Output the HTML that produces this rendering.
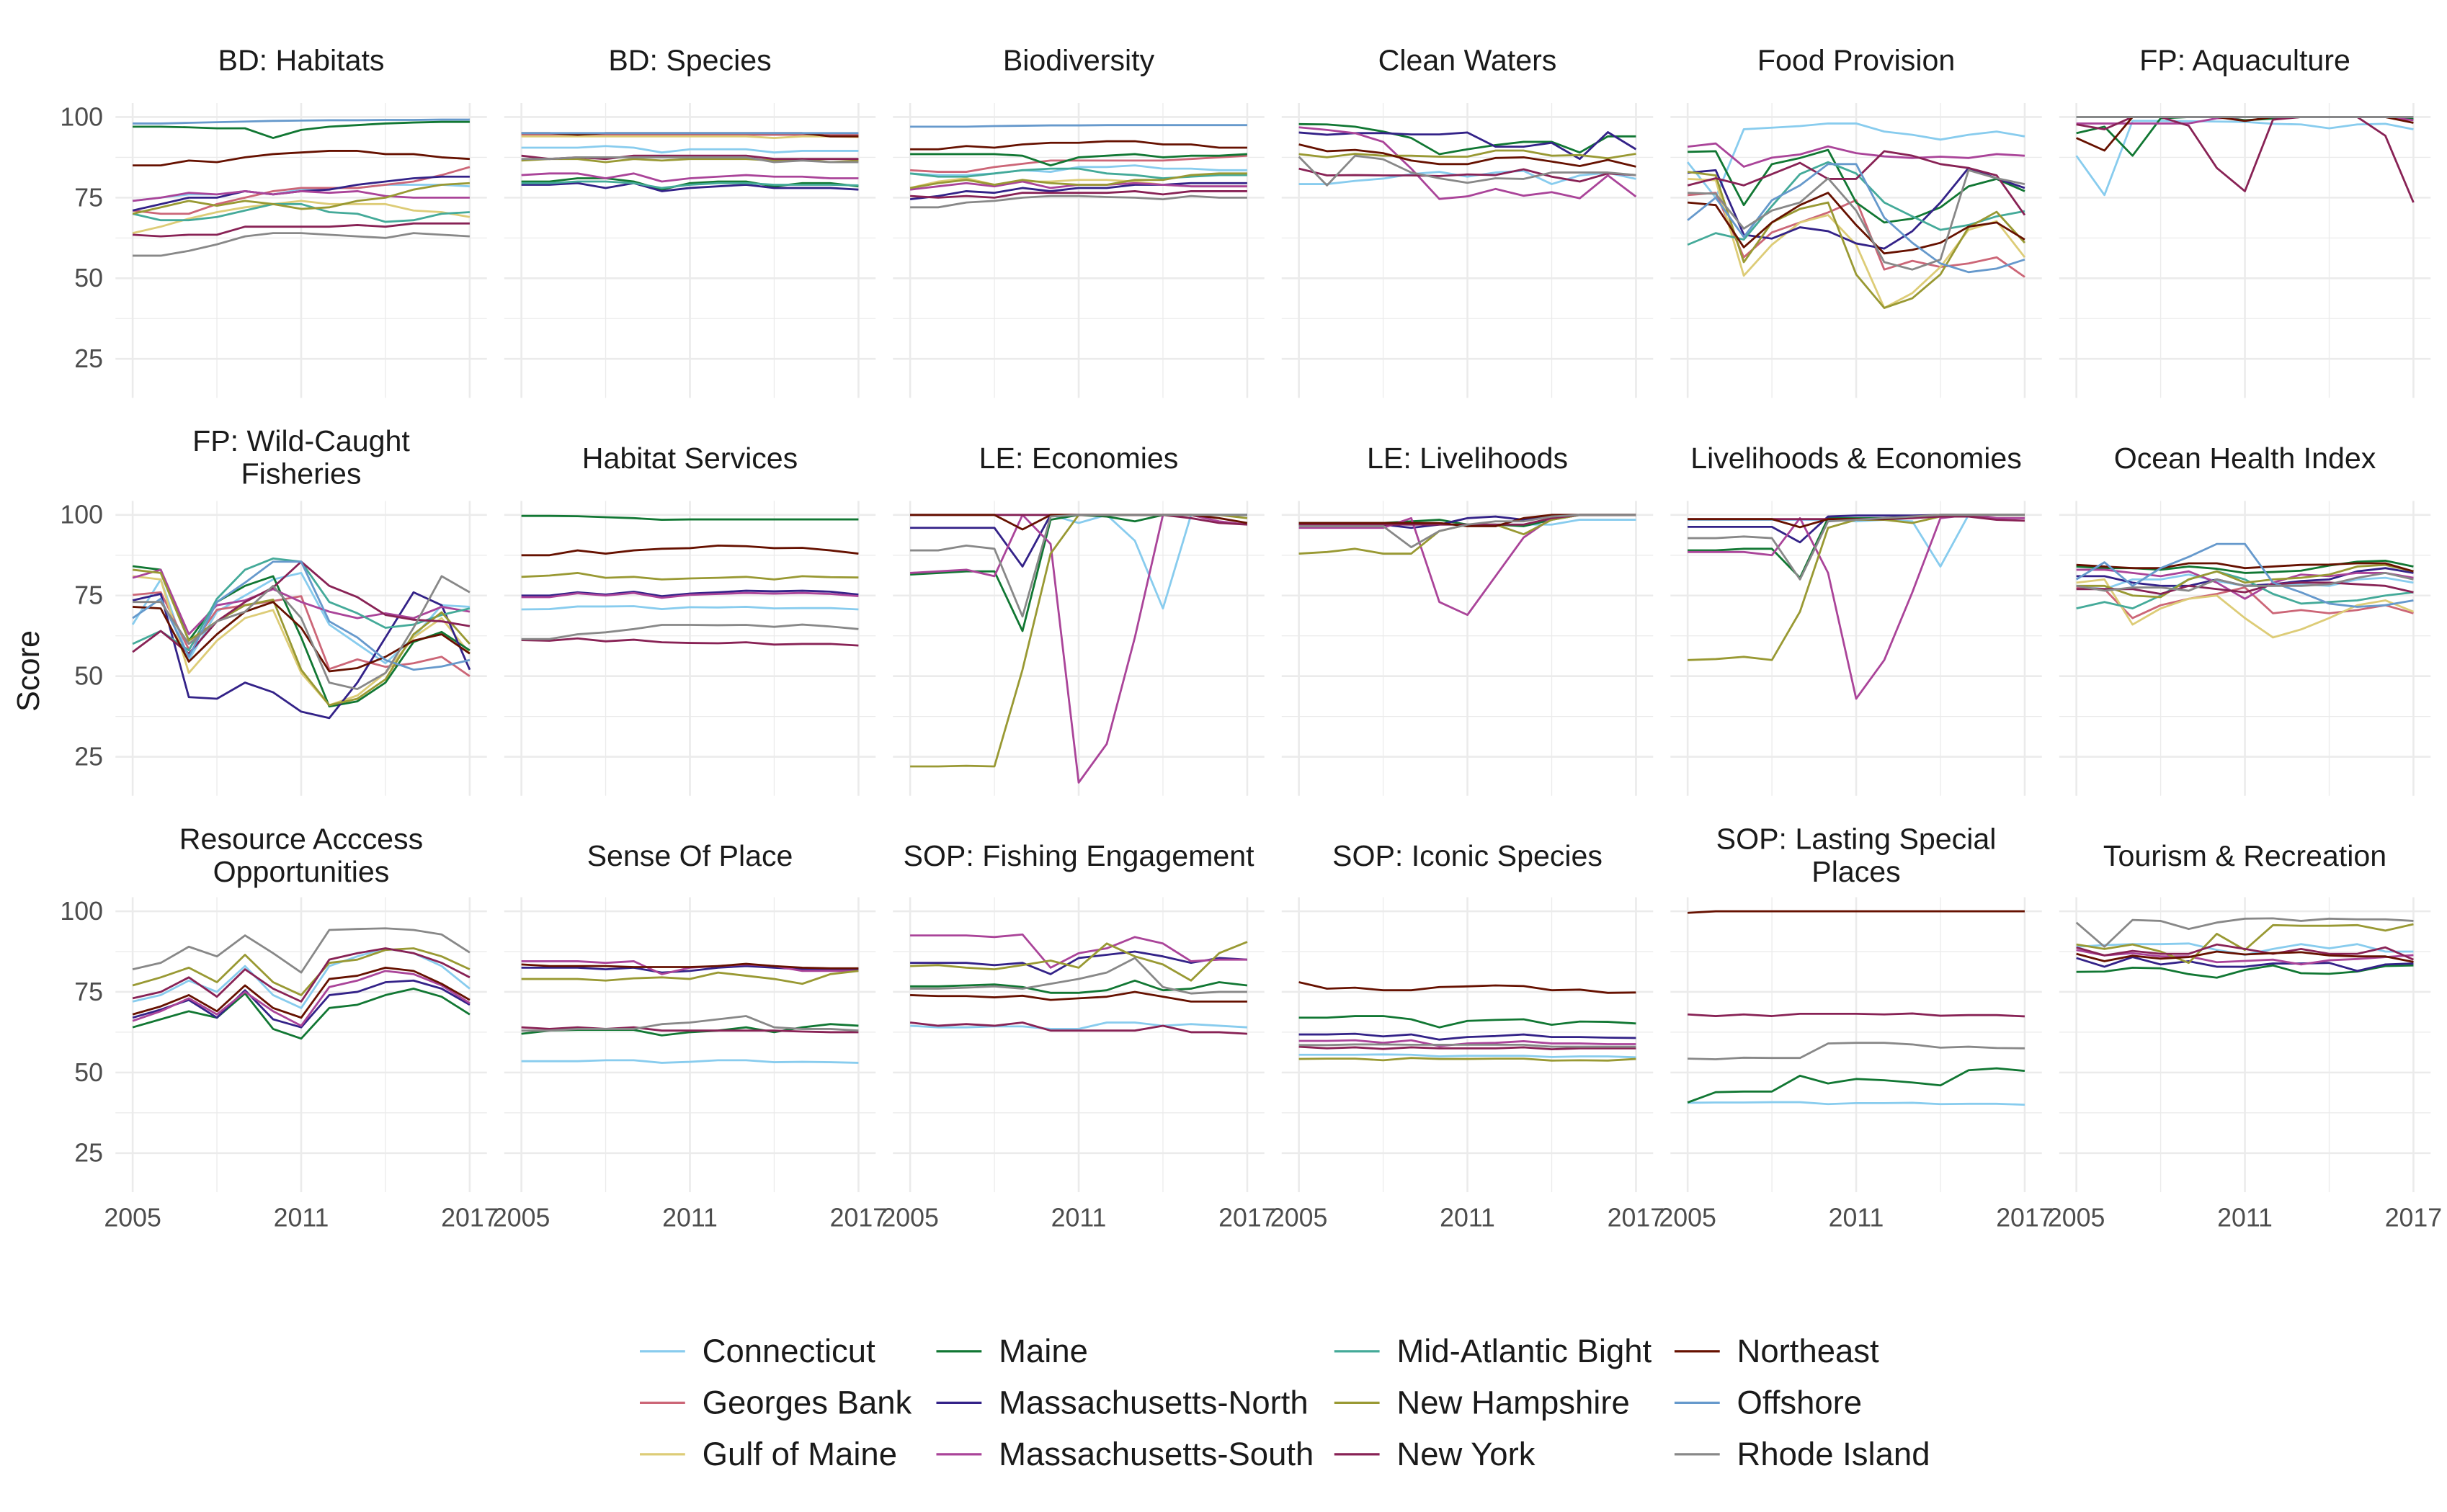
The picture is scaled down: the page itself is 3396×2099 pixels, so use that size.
<!DOCTYPE html>
<html><head><meta charset="utf-8"><style>
html,body{margin:0;padding:0;background:#fff;}
svg{display:block;font-family:"Liberation Sans",Arial,sans-serif;}
</style></head><body>
<svg id="chart" width="3396" height="2099" viewBox="0 0 1568 969" preserveAspectRatio="none" xmlns="http://www.w3.org/2000/svg"></svg>
<script>
const years=[2005,2006,2007,2008,2009,2010,2011,2012,2013,2014,2015,2016,2017];
const regionNames=["Connecticut","Georges Bank","Gulf of Maine","Maine","Massachusetts-North","Massachusetts-South","Mid-Atlantic Bight","New Hampshire","New York","Northeast","Offshore","Rhode Island"];
const yTicks=[25,50,75,100];
const xTickLabels=[2005,2011,2017];
const panelTitles=[["BD: Habitats"],["BD: Species"],["Biodiversity"],["Clean Waters"],["Food Provision"],["FP: Aquaculture"],["FP: Wild-Caught","Fisheries"],["Habitat Services"],["LE: Economies"],["LE: Livelihoods"],["Livelihoods & Economies"],["Ocean Health Index"],["Resource Acccess","Opportunities"],["Sense Of Place"],["SOP: Fishing Engagement"],["SOP: Iconic Species"],["SOP: Lasting Special","Places"],["Tourism & Recreation"]];
// series order: CT, GB, GoM, ME, MAN, MAS, MAB, NH, NY, NE, OFF, RI
const bdHabitats=[
[74,75,76,76,77,76,77.5,78,78,79,79,79,78.5],
[71,70,70,73,75,77,78,78,78,79,80,82,84.5],
[64,66,68.5,70.5,72,73,74,73,73,73,71,70.5,69],
[97,97,96.8,96.5,96.5,93.5,96,97,97.5,98,98.3,98.5,98.5],
[71,73,75,75,77,76,77,77.5,79,80,81,81.5,81.5],
[74,75,76.5,76,77,76,77,76.5,77,75.5,75,75,75],
[70,68,68,69,71,73,73,70.5,70,67.5,68,70,70.5],
[70,72,74,72.5,74,73,71.5,72,74,75,77.5,79,79.5],
[63.5,63,63.5,63.5,66,66,66,66,66.5,66,67,67,67],
[85,85,86.5,86,87.5,88.5,89,89.5,89.5,88.5,88.5,87.5,87],
[98,98,98.2,98.4,98.6,98.8,98.9,99,99,99.1,99.1,99.2,99.2],
[57,57,58.5,60.5,63,64,64,63.5,63,62.5,64,63.5,63]];
const bdSpecies=[
[90.5,90.5,90.5,91,90.5,89,90,90,90,89,89.5,89.5,89.5],
[94.5,94.5,94.5,94.5,94.5,94.5,94.5,94.5,94.5,94.5,94.5,94.5,94.5],
[94,94,94,94,94,94,94,94,94,93.5,94,94,93.8],
[80,80,81,81,80,77.5,79.5,80,80,78.5,79.5,79.5,78.5],
[79,79,79.5,78,79.5,77,78,78.5,79,78,78,78,77.5],
[82,82.5,82.5,81,82.5,80,81,81.5,82,81.5,81.5,81,81],
[79.5,79.5,80,80,79.5,78,79,79.5,79.5,79,79,79,78.8],
[86.5,87,87,86,87,86.5,87,87,87,86.5,87,86,86.5],
[88,87,87.5,87,88,88,88,88,88,87,87,87,87],
[95,95,94.5,95,95,95,95,95,95,95,95,94,94],
[95,95,95,95,95,95,95,95,95,95,95,95,95],
[87,87,87.5,87.5,87.5,87.5,87.5,87.5,87.5,86,86.5,86,86]];
const biodiversity=[
[82.5,82,82,82.5,83.5,83,84.5,84.5,85,84,84,83.5,83.5],
[83.5,83,83,84.5,85.5,86.5,86.5,86.5,86.5,86.5,87,87.5,88],
[78,80,81,79,80,80,80.5,80.5,80,79,78.5,78.5,78.5],
[88.5,88.5,88.5,88.5,88,85,87.5,88,88.5,87.5,88,88,88.5],
[74.5,75.5,77,76.5,78,77,78,78,79,79,79.5,79.5,79.5],
[77.5,78.5,79.5,78.5,80,78,79,79,79.5,79,78.5,78.5,78.5],
[82.5,81.5,81.5,82.5,83.5,84,84,82.5,82,81,81.5,82,82],
[78,79.5,80.5,79,80.5,79.5,79,79,80.5,80.5,82,82.5,82.5],
[75.5,75,75.5,75,76.5,76.5,76.5,76.5,77,76,77,77,77],
[90,90,91,90.5,91.5,92,92,92.5,92.5,91.5,91.5,90.5,90.5],
[97,97,97,97.2,97.3,97.4,97.4,97.5,97.5,97.5,97.5,97.5,97.5],
[72,72,73.5,74,75,75.5,75.5,75.2,75,74.5,75.5,75,75]];
const cleanWaters=[
[79.2,79.2,80.2,80.9,82.3,83,81.5,82.8,83.3,79.2,81.9,82.7,80.8],
null,null,
[97.8,97.7,97,95.5,93.5,88.5,90,91.3,92.3,92.3,89,94,94],
[95.2,94.5,95,95,94.6,94.6,95.2,90.8,90.8,92,87,95.3,90],
[96.8,96,95,92.3,84,74.6,75.4,77.7,75.6,76.7,74.8,81.9,75.3],
null,
[88.5,87.5,88.6,88,88,87.7,87.7,89.6,89.6,88,88.2,87.2,88.6],
[84,81.9,82,81.9,81.9,81.7,82.2,82,83.8,81.5,80,82.5,82],
[91.5,89.4,89.8,88.8,86.5,85.4,85.4,87.3,87.5,86.2,84.8,86.7,84.6],
null,
[87.7,78.8,88,86.9,82.8,81,79.6,81,80.8,82.8,82.8,82.8,82]];
const foodProvision=[
[86,75,96.2,96.7,97.2,98,98,95.5,94.5,93,94.5,95.5,94],
[75.8,76.5,56.5,64.2,67.3,70.4,74.2,52.7,55.4,53.5,54.6,56.5,50.4],
[80.8,80.4,50.8,60.4,67.3,69.6,60.4,40.8,45.4,53.5,65,67.7,56.5],
[89.2,89.4,72.7,85.4,87.3,89.8,73.5,67.3,68.5,72,78.5,80.8,77],
[82.7,83.5,63.5,62.3,65.8,64.6,60.8,59.2,64.6,73.5,84.2,81,78],
[90.8,91.8,84.6,87.4,88.4,90.9,88.8,87.8,87.3,87.7,87.3,88.5,88],
[60.4,64,62,72.4,82.3,86,82.5,73.5,69.2,65,66.5,69.2,70.8],
[83,81.9,55,67.3,71.5,73.5,51.2,40.8,43.8,51.2,65.8,70.6,61],
[78.8,81,78.8,82.3,85.8,80.8,80.8,89.4,88,85.4,84.2,81.9,69.6],
[73.5,72.7,59.6,67.3,72.7,76.5,66.5,57.7,58.8,61,66,67.3,62],
[68,75,62.8,74.2,78.8,85.4,85.4,68.8,61,54.6,51.9,53,55.8],
[76.5,76.2,65.4,71,73.5,81,71,55,52.7,55.8,83.5,81,79.2]];
const fpAquaculture=[
[88,75.8,98.8,98.8,98.7,98.6,98.5,97.9,97.7,96.5,97.7,97.9,96.2],
[100,100,100,100,100,100,100,100,100,100,100,100,100],
[100,100,100,100,100,100,100,100,100,100,100,100,100],
[95,97,88,99.6,100,100,99,99.5,100,100,100,100,99.5],
[100,100,100,100,100,100,100,100,100,100,100,100,100],
[98,98,98,98,98,99.6,100,100,100,100,100,100,99],
[100,100,100,100,100,100,100,100,100,100,100,100,100],
[100,100,100,100,100,100,100,100,100,100,100,100,100],
[97.7,96.2,100,100,97.3,84.2,77,99.2,100,100,100,94.2,73.5],
[93.5,89.6,100,100,100,100,98.8,100,100,100,100,100,98.2],
[100,100,100,100,100,100,100,100,100,100,100,100,100],
[100,100,100,100,100,100,100,100,100,100,100,100,100]];
const fpWildCaught=[
[66,80,55,70,75,80,82,66,60,54,62,72,71.5],
[75.2,76,58.3,70.6,72,73.3,74.8,52.2,55.2,52.9,54,56,50],
[81,80,51,61,68,70.5,51,41,44,51,62,68,57],
[84.1,83,61,73,78,81,62,40.6,42.2,48,60.6,63.7,58],
[73.5,75.5,43.5,43,48,45,39,37,48,62,76,72,52],
[80.5,83,63,72,73.5,77,73,70,68,69.5,68,71.5,70],
[60,64,58,74,83,86.5,85.5,73,69.5,65,66,69,71],
[83,82,61,67,72,73.7,52,41,43,49,63,69.8,60],
[57.5,64,57,67,73,77.5,85.5,78,74.5,69,67.5,67,65.5],
[71.5,71,54.5,63,70,73,65,51.5,52.5,56,61,63,57],
[68,74,56,73,79,85.5,85.5,67,62,55,52,53,55],
[73,73,60,67,70,78,68,48,46,51,65,81,76]];
const habitatServices=[
[70.7,70.8,71.6,71.6,71.7,70.8,71.4,71.3,71.5,71,71.1,71.1,70.7],
null,null,
[99.7,99.7,99.6,99.3,99,98.5,98.6,98.6,98.6,98.6,98.6,98.6,98.6],
[75,75,76,75.3,76.2,74.8,75.6,76,76.5,76.3,76.5,76.2,75.3],
[74.5,74.5,75.7,75,75.8,74.3,75.2,75.5,75.8,75.6,75.8,75.5,74.8],
null,
[80.8,81.2,82,80.5,80.8,80,80.3,80.5,80.8,80,81,80.7,80.6],
[61.2,61,61.7,60.8,61.3,60.5,60.3,60.2,60.5,59.8,60,60,59.5],
[87.5,87.5,89,88,89,89.5,89.7,90.5,90.3,89.7,89.8,89,88],
null,
[61.5,61.5,63,63.6,64.6,65.9,65.9,65.8,65.9,65.3,66,65.4,64.6]];
const leEconomies=[
[100,100,100,100,100,100,97.5,100,92,71,100,100,100],
null,null,
[81.5,82,82.5,82.5,64,98.5,100,99.5,98,100,100,100,100],
[96,96,96,96,84,100,100,100,100,100,100,100,100],
[82,82.5,83,81,100,91,17,29,62,100,100,98,97],
null,
[22,22,22.2,22,52,88,100,100,100,100,100,100,99],
[100,100,100,100,100,100,100,100,100,100,99,97.5,97],
[100,100,100,100,95.5,100,100,100,100,100,100,99,97.5],
null,
[89,89,90.5,89.5,68.5,99.5,100,100,100,100,100,100,100]];
const leLivelihoods=[
[97,97,97,97,97,97,97,97,97,97,98.5,98.5,98.5],
null,null,
[97.5,97.5,97.5,97.5,98,98.5,97,97,96.5,98.5,100,100,100],
[97,97,97,97,96,97,99,99.5,98.5,100,100,100,100],
[96,96,96,96,99,73,69,81,93,99,100,100,100],
null,
[88,88.5,89.5,88,88,95,97,97,94,98.5,100,100,100],
[97,97,97,97,97,97,97,97,97,99,100,100,100],
[97.5,97.5,97.5,97.5,97.5,97.5,96.5,96.5,99,100,100,100,100],
null,
[96.5,96.5,96.5,96.5,90,95,97,98,98,99.5,100,100,100]];
const livEconomies=[
[98.5,98.5,98.5,98.5,98.5,98.5,98,98.5,98,84,100,100,100],
null,null,
[89,89,89.5,89.5,80.5,99,99,99,99.5,100,100,100,100],
[96.3,96.3,96.3,96.3,91.5,99.5,99.8,99.8,99.8,100,100,100,100],
[88.5,88.5,88.5,87.5,99,82,43,55,76,99,100,99,99],
null,
[55,55.3,56,55,70,96,98.5,98.5,97.5,99.5,100,100,100],
[98.7,98.7,98.7,98.7,98.7,98.7,98.7,98.7,99,99.5,99.5,98.5,98.2],
[98.7,98.7,98.7,98.7,96.2,98.7,98.7,98.7,99.5,100,100,100,100],
null,
[92.8,92.8,93.3,92.8,80,98,98.5,99,99.5,100,100,100,100]];
const oceanHealth=[
[78,77,80,80,81.5,79.5,78,78,78.5,78,80,80.5,79],
[77.5,77,68,72,74,75.5,77.5,69.5,70.5,69.5,70.5,72,69.5],
[79,80,66,71,74,75,68,62,64.5,68,72,73.5,70],
[84,83.5,83.5,83,84,83.3,82,82.3,82.7,84.3,85.5,85.8,84],
[81,81,79,78,78,80,78,78.5,79.5,80,82.5,83.5,82],
[83,83,82,81,82.5,79,74,79,81.5,81,82,82,80.5],
[71,73,71,75,80,82.5,80,75.5,72.5,73,73.5,75,76],
[78,78,75,74.5,80,82.5,79,80,80.5,81.5,84,84.5,82.5],
[77,77,77,75.5,78,77,76,78.5,79,79,78.5,78,76],
[84.5,84,83.5,83.5,85,85,83.5,84,84.5,84.6,85,85,82.5],
[80,85.3,78,83.5,87,91,91,79,76,72.5,71.5,72,73.5],
[78,76.5,77.5,77.5,76.5,80,78,78,78,78.5,80.5,82,80]];
const resourceAccess=[
[72,74,78.5,75,83,74,70,83,86,88.5,87,83,76],
null,null,
[64,66.5,69,67,74.5,63.5,60.5,70,71,74,76,73.5,68],
[67,69.5,72.5,67,75.5,66.5,64,74,75,78,78.5,76,71],
[66,69,73,68,75,69,64.5,76.5,78.5,81.5,80.5,77,71.5],
null,
[77,79.5,82.5,78,86.5,78,74,84,85,88,88.5,86,82],
[73,75,79.5,73.5,82,76,72,85,87,88.5,87,84,79.5],
[68,70.5,74,69,77,70,67,79,80,82.5,81.5,77.5,72.5],
null,
[82,84,89,86,92.5,87,81,94.2,94.5,94.7,94.2,92.8,87.2]];
const senseOfPlace=[
[53.5,53.5,53.5,53.8,53.8,53,53.3,53.8,53.8,53.2,53.3,53.2,53],
null,null,
[62,63,63.2,63.2,63.2,61.5,62.5,63,64,62.5,64,65,64.5],
[82.5,82.5,82.5,82,82.5,81,81.5,82.5,83,82.5,82,82,82],
[84.5,84.5,84.5,84,84.5,80.5,82.5,83,83.5,83,81.5,81.5,81.5],
null,
[79,79,79,78.5,79.2,79.5,79,81,80,79,77.5,80.5,81.5],
[64,63.5,64,63.5,64,63,63,63,63,63,62.7,62.5,62.5],
[83.5,83,83,83,82.7,82.7,82.7,83,83.7,83,82.5,82.3,82.3],
null,
[63,63,63.5,63.5,63.5,65,65.5,66.5,67.5,64,63.5,63.5,63]];
const sopFishing=[
[64.5,64,64,64.3,64.3,63.5,63.5,65.5,65.5,64.5,65,64.5,64],
null,null,
[76.7,76.7,77,77.3,76.5,74.7,74.7,75.5,78.5,75.5,76,78,77],
[84,84,84,83.3,84,80.5,85.5,86.5,87.5,86,84,85.5,85],
[92.5,92.5,92.5,92,92.8,82.5,87,88.5,92,90,84.5,85,85],
null,
[83,83.3,82.5,82,83.3,84.7,82.5,90,86,83.5,78.5,87,90.5],
[65.5,64.5,65,64.5,65.5,63,63,63,63,64.5,62.5,62.5,62],
[74,73.7,73.7,73.3,73.8,72.5,73,73.5,75,73.5,72,72,72],
null,
[76,76,76.3,76.7,76,77.5,79,81,85.5,76.5,74.5,75,75]];
const sopIconic=[
[55.5,55.5,55.5,55.6,55.5,55,55.2,55.2,55.2,54.8,55,55,54.7],
null,null,
[67,67,67.5,67.5,66.5,64,66,66.3,66.5,64.8,65.8,65.7,65.2],
[61.8,61.8,62,61.2,61.8,60.2,61,61.3,61.8,61,61,60.8,60.7],
[59.8,59.8,60,59.2,60,58.2,59,59.2,59.7,59,59,58.8,58.8],
null,
[54.2,54.3,54.3,53.8,54.5,54.2,54.2,54.3,54.3,53.7,53.8,53.7,54.2],
[58,57.5,57.8,57.3,57.8,57.5,57.5,57.5,57.8,57.2,57.5,57.5,57.5],
[78,76,76.3,75.5,75.5,76.5,76.7,77,76.8,75.5,75.7,74.7,74.8],
null,
[58.5,58.5,58.7,58.7,58.6,58.6,58.6,58.6,58.6,58,58,58,58]];
const sopLasting=[
[40.6,40.7,40.7,40.8,40.8,40.2,40.5,40.5,40.6,40.2,40.3,40.3,40],
null,null,
[40.7,43.9,44.1,44.1,49,46.6,48,47.6,46.9,46,50.7,51.3,50.5],
null,null,null,null,
[68,67.5,68,67.5,68.2,68.2,68.2,68,68.3,67.6,67.8,67.8,67.4],
[99.5,100,100,100,100,100,100,100,100,100,100,100,100],
null,
[54.3,54.1,54.6,54.5,54.5,59,59.2,59.2,58.7,57.7,58,57.6,57.5]];
const tourism=[
[89,89.5,89.8,89.8,90,88,86.5,88.3,89.8,88.5,89.8,87.5,87.5],
null,null,
[81.2,81.3,82.5,82.3,80.5,79.4,81.8,83.2,80.8,80.6,81.3,83,83.2],
[85.5,82.8,85.8,83.5,84.5,82.8,82.8,83.8,83.8,84,81.5,83.5,83.8],
[88,86.3,87,86,86,84.2,84.6,85,83.5,84.8,85.2,85.8,86.4],
null,
[89.7,88.3,89.7,87.5,84,93,88,95.7,95.5,95.5,95.7,94,96],
[88.8,86.3,87.7,86.8,86.8,89.7,88.3,86.8,88.3,86.8,86.8,88.8,85],
[86.8,84.5,86.2,85.3,85.8,87.5,86.6,87,87.3,86.3,86,86,84.3],
null,
[96.5,89,97.3,97,94.5,96.5,97.7,97.8,97,97.7,97.5,97.5,97]];
const panelData=[bdHabitats,bdSpecies,biodiversity,cleanWaters,foodProvision,fpAquaculture,fpWildCaught,habitatServices,leEconomies,leLivelihoods,livEconomies,oceanHealth,resourceAccess,senseOfPlace,sopFishing,sopIconic,sopLasting,tourism];

const colors=["#88CCEE","#CC6677","#DDCC77","#117733","#332288","#AA4499","#44AA99","#999933","#882255","#661100","#6699CC","#888888"];
const NS="http://www.w3.org/2000/svg";
const svg=document.getElementById("chart");
function mk(tag,attrs,parent){const e=document.createElementNS(NS,tag);for(const k in attrs)e.setAttribute(k,attrs[k]);(parent||svg).appendChild(e);return e;}
const colX0=85, colStep=249.1, xSpan=216, rowY100=[75,330,584], unit=155/75;
function kebab(s){return s.toLowerCase().replace(/&/g,"and").replace(/[^a-z0-9]+/g,"-").replace(/^-|-$/g,"");}

panelData.forEach((data,p)=>{
  const col=p%6,row=Math.floor(p/6);
  const x0=colX0+col*colStep, y100=rowY100[row];
  const xs=yr=>x0+(yr-2005)/12*xSpan;
  const ys=v=>y100+(100-v)*unit;
  const g=mk("g",{});
  
  
  const top=y100-9,bot=y100+180,left=x0-11,right=x0+xSpan+11;
  [37.5,62.5,87.5].forEach(v=>{const l=mk("line",{x1:left,x2:right,y1:ys(v),y2:ys(v),stroke:"#ebebeb","stroke-width":0.6},g);});
  [2008,2014].forEach(yr=>{const l=mk("line",{x1:xs(yr),x2:xs(yr),y1:top,y2:bot,stroke:"#ebebeb","stroke-width":0.6},g);});
  yTicks.forEach(v=>{const l=mk("line",{x1:left,x2:right,y1:ys(v),y2:ys(v),stroke:"#ebebeb","stroke-width":1.2},g);});
  xTickLabels.forEach(yr=>{const l=mk("line",{x1:xs(yr),x2:xs(yr),y1:top,y2:bot,stroke:"#ebebeb","stroke-width":1.2},g);});
  const lines=panelTitles[p];
  const tbase=(row===0?45:(row===1?300:555));
  lines.forEach((t,i)=>{
    const ty=lines.length===1?tbase:tbase-11+i*21;
    const tx=mk("text",{x:x0+xSpan/2,y:ty,"text-anchor":"middle","font-size":19,fill:"#1a1a1a"},g);
    tx.textContent=t;
    
    
  });
  if(col===0){yTicks.forEach(v=>{const t=mk("text",{x:66,y:ys(v)+5.5,"text-anchor":"end","font-size":16.5,fill:"#4d4d4d"},g);t.textContent=v;});}
  if(row===2){xTickLabels.forEach(yr=>{const t=mk("text",{x:xs(yr),y:786,"text-anchor":"middle","font-size":16.5,fill:"#4d4d4d"},g);t.textContent=yr;});}
  data.forEach((vals,s)=>{
    if(!vals)return;
    const pts=vals.map((v,i)=>xs(years[i]).toFixed(2)+","+ys(v).toFixed(2)).join(" ");
    const pl=mk("polyline",{points:pts,fill:"none",stroke:colors[s],"stroke-width":1.3,"stroke-linejoin":"round"},g);
    
    
  });
});
const yt=mk("text",{x:0,y:0,transform:"translate(25,430) rotate(-90)","text-anchor":"middle","font-size":20,fill:"#1a1a1a"});
yt.textContent="Score";


const legX=[410,600,855,1073], legY=[866,899,932];
const lg=mk("g",{});


regionNames.forEach((n,i)=>{
  const c=Math.floor(i/3),r=i%3;
  const e=mk("g",{},lg);
  
  
  mk("line",{x1:legX[c],x2:legX[c]+29,y1:legY[r],y2:legY[r],stroke:colors[i],"stroke-width":1.5},e);
  const t=mk("text",{x:legX[c]+40,y:legY[r]+7,"font-size":21,fill:"#1a1a1a"},e);
  t.textContent=n;
});
</script>
</body></html>
